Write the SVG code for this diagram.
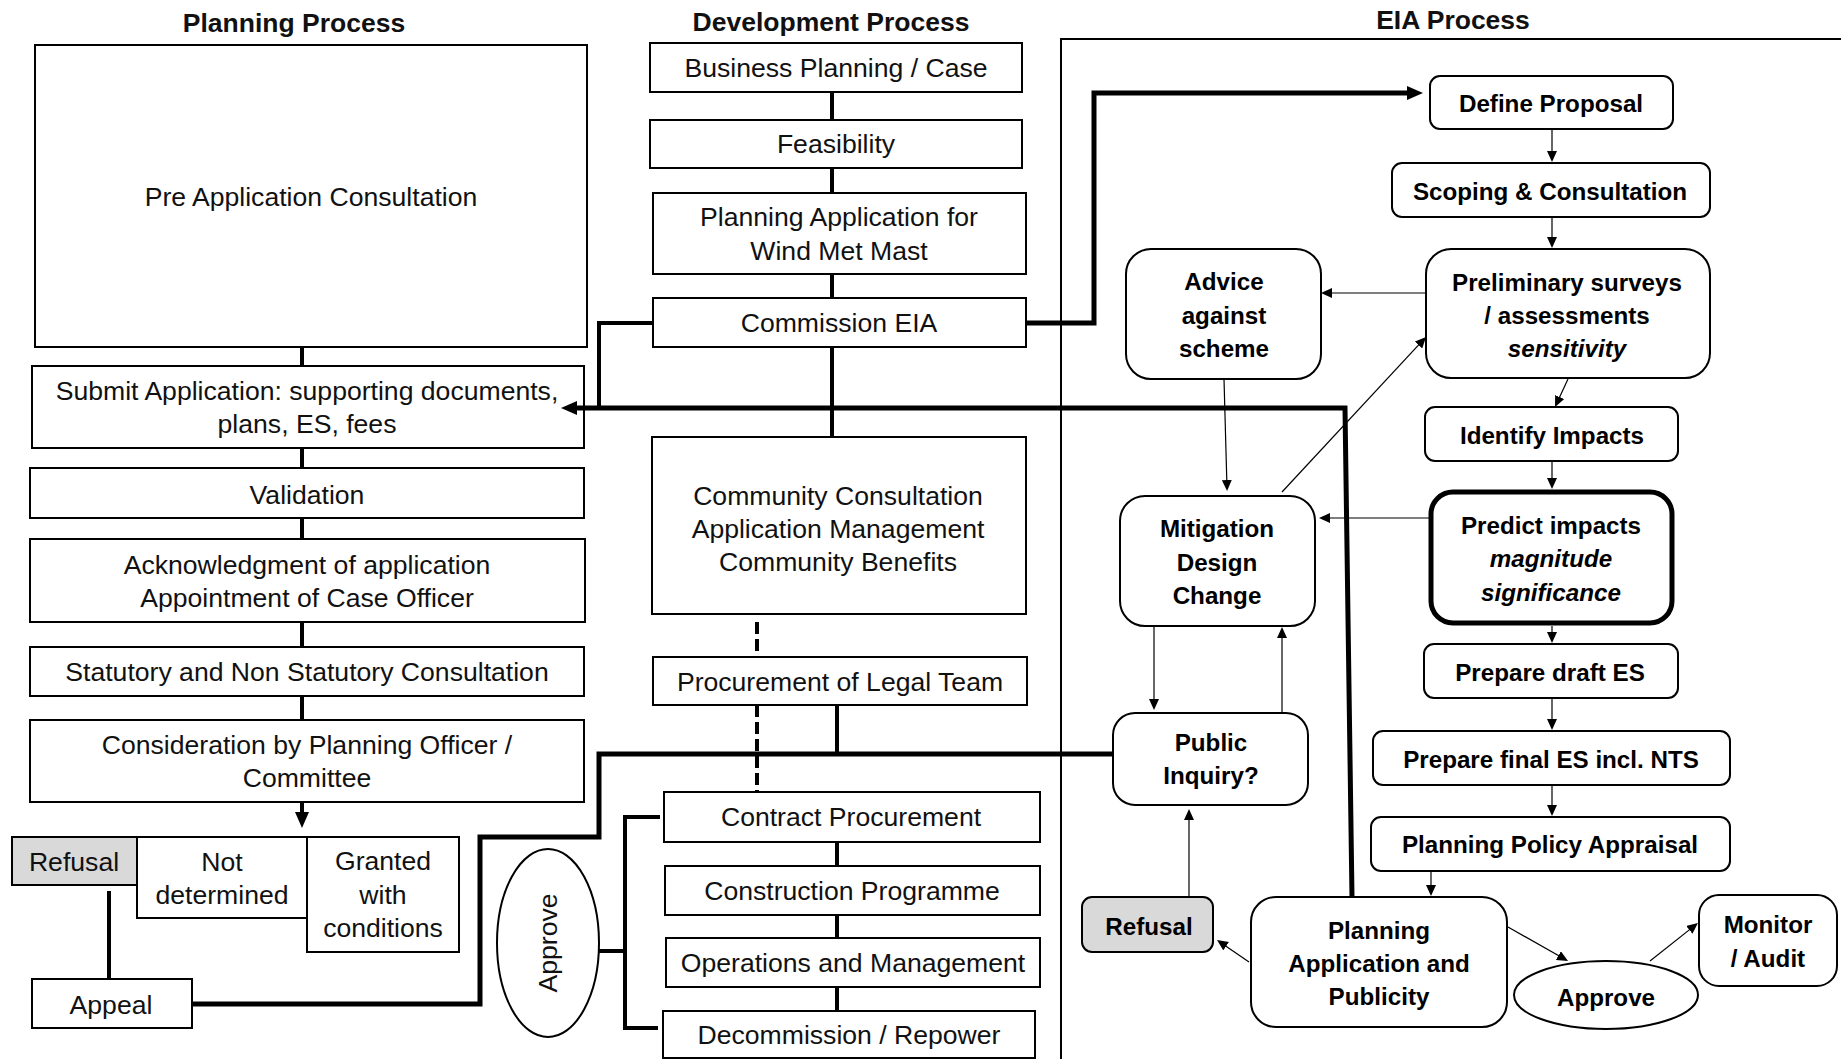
<svg xmlns="http://www.w3.org/2000/svg" width="1841" height="1059" viewBox="0 0 1841 1059">
<style>
  .box{fill:#fff;stroke:#000;stroke-width:2}
  .grey{fill:#d9d9d9}
  .t{font-family:"Liberation Sans",Arial,sans-serif;font-size:26.6px;fill:#111;text-anchor:middle}
  .h{font-family:"Liberation Sans",Arial,sans-serif;font-size:26.5px;font-weight:bold;fill:#111;text-anchor:middle}
  .e{font-family:"Liberation Sans",Arial,sans-serif;font-size:24.2px;font-weight:bold;fill:#000;text-anchor:middle}
  .i{font-style:italic}
  .frame{fill:none;stroke:#000;stroke-width:2}
  .thick{fill:none;stroke:#000;stroke-width:4}
  .heavy{fill:none;stroke:#000;stroke-width:5}
  .thin{fill:none;stroke:#000;stroke-width:1.2}
  .dash{fill:none;stroke:#000;stroke-width:4;stroke-dasharray:12 5}
</style>
<defs>
  <marker id="ah" markerUnits="userSpaceOnUse" markerWidth="11" markerHeight="10" refX="8" refY="5" orient="auto">
    <path d="M0,0 L11,5 L0,10 z" fill="#000"/>
  </marker>
  <marker id="ahBig" markerUnits="userSpaceOnUse" markerWidth="16" markerHeight="14" refX="9" refY="7" orient="auto">
    <path d="M0,0 L16,7 L0,14 z" fill="#000"/>
  </marker>
</defs>
<rect width="1841" height="1059" fill="#fff"/>

<!-- column headings -->
<text class="h" x="294" y="32">Planning Process</text>
<text class="h" x="831" y="31">Development Process</text>
<text class="h" x="1453" y="29">EIA Process</text>

<!-- EIA lane frame -->
<path class="frame" d="M1061,1059 V39 H1841"/>

<!-- Planning process column -->
<g id="pre-application">
  <rect class="box" x="35" y="45" width="552" height="302"/>
  <text class="t" x="311" y="206">Pre Application Consultation</text>
</g>
<g id="submit-application">
  <rect class="box" x="32" y="366" width="552" height="82"/>
  <text class="t" x="307" y="400">Submit Application: supporting documents,</text>
  <text class="t" x="307" y="433">plans, ES, fees</text>
</g>
<g id="validation">
  <rect class="box" x="30" y="468" width="554" height="50"/>
  <text class="t" x="307" y="504">Validation</text>
</g>
<g id="acknowledgment">
  <rect class="box" x="30" y="539" width="555" height="83"/>
  <text class="t" x="307" y="574">Acknowledgment of application</text>
  <text class="t" x="307" y="607">Appointment of Case Officer</text>
</g>
<g id="statutory-consultation">
  <rect class="box" x="30" y="647" width="554" height="49"/>
  <text class="t" x="307" y="681">Statutory and Non Statutory Consultation</text>
</g>
<g id="consideration">
  <rect class="box" x="30" y="720" width="554" height="82"/>
  <text class="t" x="307" y="754">Consideration by Planning Officer /</text>
  <text class="t" x="307" y="787">Committee</text>
</g>
<g id="refusal-planning">
  <rect class="box grey" x="12" y="837" width="125" height="48"/>
  <text class="t" x="74" y="871">Refusal</text>
</g>
<g id="not-determined">
  <rect class="box" x="137" y="837" width="170" height="81"/>
  <text class="t" x="222" y="871">Not</text>
  <text class="t" x="222" y="904">determined</text>
</g>
<g id="granted">
  <rect class="box" x="307" y="837" width="152" height="115"/>
  <text class="t" x="383" y="870">Granted</text>
  <text class="t" x="383" y="904">with</text>
  <text class="t" x="383" y="937">conditions</text>
</g>
<g id="appeal">
  <rect class="box" x="32" y="979" width="160" height="49"/>
  <text class="t" x="111" y="1014">Appeal</text>
</g>

<!-- Development process column -->
<g id="business-planning">
  <rect class="box" x="650" y="43" width="372" height="49"/>
  <text class="t" x="836" y="77">Business Planning / Case</text>
</g>
<g id="feasibility">
  <rect class="box" x="650" y="120" width="372" height="48"/>
  <text class="t" x="836" y="153">Feasibility</text>
</g>
<g id="met-mast">
  <rect class="box" x="653" y="193" width="373" height="81"/>
  <text class="t" x="839" y="226">Planning Application for</text>
  <text class="t" x="839" y="260">Wind Met Mast</text>
</g>
<g id="commission-eia">
  <rect class="box" x="653" y="298" width="373" height="49"/>
  <text class="t" x="839" y="332">Commission EIA</text>
</g>
<g id="community">
  <rect class="box" x="652" y="437" width="374" height="177"/>
  <text class="t" x="838" y="505">Community Consultation</text>
  <text class="t" x="838" y="538">Application Management</text>
  <text class="t" x="838" y="571">Community Benefits</text>
</g>
<g id="legal-team">
  <rect class="box" x="653" y="657" width="374" height="48"/>
  <text class="t" x="840" y="691">Procurement of Legal Team</text>
</g>
<g id="contract">
  <rect class="box" x="664" y="792" width="376" height="50"/>
  <text class="t" x="851" y="826">Contract Procurement</text>
</g>
<g id="construction">
  <rect class="box" x="665" y="866" width="375" height="49"/>
  <text class="t" x="852" y="900">Construction Programme</text>
</g>
<g id="operations">
  <rect class="box" x="666" y="938" width="374" height="49"/>
  <text class="t" x="853" y="972">Operations and Management</text>
</g>
<g id="decommission">
  <rect class="box" x="663" y="1011" width="372" height="47"/>
  <text class="t" x="849" y="1044">Decommission / Repower</text>
</g>
<g id="approve-development">
  <ellipse class="box" cx="548" cy="943" rx="51" ry="94"/>
  <text class="t" transform="translate(548,943) rotate(-90)" x="0" y="9">Approve</text>
</g>

<!-- EIA process column -->
<g id="define-proposal">
  <rect class="box" x="1430" y="76" width="243" height="53" rx="10"/>
  <text class="e" x="1551" y="112">Define Proposal</text>
</g>
<g id="scoping">
  <rect class="box" x="1392" y="163" width="318" height="54" rx="10"/>
  <text class="e" x="1550" y="200">Scoping &amp; Consultation</text>
</g>
<g id="preliminary-surveys">
  <rect class="box" x="1426" y="249" width="284" height="129" rx="25"/>
  <text class="e" x="1567" y="291">Preliminary surveys</text>
  <text class="e" x="1567" y="324">/ assessments</text>
  <text class="e i" x="1567" y="357">sensitivity</text>
</g>
<g id="advice-against">
  <rect class="box" x="1126" y="249" width="195" height="130" rx="25"/>
  <text class="e" x="1224" y="290">Advice</text>
  <text class="e" x="1224" y="324">against</text>
  <text class="e" x="1224" y="357">scheme</text>
</g>
<g id="identify-impacts">
  <rect class="box" x="1425" y="407" width="253" height="54" rx="10"/>
  <text class="e" x="1552" y="444">Identify Impacts</text>
</g>
<g id="predict-impacts">
  <rect class="box" x="1431" y="492" width="241" height="131" rx="22" style="stroke-width:5"/>
  <text class="e" x="1551" y="534">Predict impacts</text>
  <text class="e i" x="1551" y="567">magnitude</text>
  <text class="e i" x="1551" y="601">significance</text>
</g>
<g id="mitigation">
  <rect class="box" x="1120" y="496" width="195" height="130" rx="25"/>
  <text class="e" x="1217" y="537">Mitigation</text>
  <text class="e" x="1217" y="571">Design</text>
  <text class="e" x="1217" y="604">Change</text>
</g>
<g id="draft-es">
  <rect class="box" x="1424" y="644" width="254" height="54" rx="10"/>
  <text class="e" x="1550" y="681">Prepare draft ES</text>
</g>
<g id="final-es">
  <rect class="box" x="1373" y="731" width="357" height="54" rx="10"/>
  <text class="e" x="1551" y="768">Prepare final ES incl. NTS</text>
</g>
<g id="public-inquiry">
  <rect class="box" x="1113" y="713" width="195" height="92" rx="22"/>
  <text class="e" x="1211" y="751">Public</text>
  <text class="e" x="1211" y="784">Inquiry?</text>
</g>
<g id="policy-appraisal">
  <rect class="box" x="1371" y="817" width="359" height="54" rx="10"/>
  <text class="e" x="1550" y="853">Planning Policy Appraisal</text>
</g>
<g id="application-publicity">
  <rect class="box" x="1251" y="897" width="256" height="130" rx="25"/>
  <text class="e" x="1379" y="939">Planning</text>
  <text class="e" x="1379" y="972">Application and</text>
  <text class="e" x="1379" y="1005">Publicity</text>
</g>
<g id="refusal-eia">
  <rect class="box grey" x="1082" y="897" width="131" height="55" rx="10"/>
  <text class="e" x="1149" y="935">Refusal</text>
</g>
<g id="approve-eia">
  <ellipse class="box" cx="1606" cy="995" rx="92" ry="34"/>
  <text class="e" x="1606" y="1006">Approve</text>
</g>
<g id="monitor-audit">
  <rect class="box" x="1699" y="895" width="138" height="91" rx="20"/>
  <text class="e" x="1768" y="933">Monitor</text>
  <text class="e" x="1768" y="967">/ Audit</text>
</g>

<!-- connectors -->
<g id="connectors">
  <!-- planning chain -->
  <path class="thick" d="M302,347 V366 M302,448 V468 M302,518 V539 M302,622 V647 M302,696 V720"/>
  <path class="thick" d="M302,802 V821" marker-end="url(#ahBig)"/>
  <path class="thick" d="M109,891 V979"/>
  <path class="heavy" d="M192,1004 H480 V837 H599 V754 H1113"/>

  <!-- development chain -->
  <path class="thick" d="M832,92 V120 M832,168 V193 M832,274 V298 M832,347 V437"/>
  <path class="dash" d="M757,622 V657 M757,705 V792"/>
  <path class="thick" d="M837,705 V754"/>
  <path class="thick" d="M837,842 V866 M837,915 V938 M837,987 V1011"/>
  <path class="thick" d="M599,951 H625 M660,817 H625 V1028 H658"/>
  <path class="thick" d="M653,323 H599 V408"/>
  <path class="heavy" d="M1352,897 L1345,408 H568" marker-end="url(#ahBig)"/>
  <path class="heavy" d="M1026,323 H1094 V93 H1416" marker-end="url(#ahBig)"/>

  <!-- EIA flow -->
  <path class="thin" d="M1552,129 V159" marker-end="url(#ah)"/>
  <path class="thin" d="M1552,217 V245" marker-end="url(#ah)"/>
  <path class="thin" d="M1426,293 H1324" marker-end="url(#ah)"/>
  <path class="thin" d="M1568,379 L1556.3,404.3" marker-end="url(#ah)"/>
  <path class="thin" d="M1552,461 V486" marker-end="url(#ah)"/>
  <path class="thin" d="M1431,518 H1322" marker-end="url(#ah)"/>
  <path class="thin" d="M1552,626 V640" marker-end="url(#ah)"/>
  <path class="thin" d="M1552,698 V727" marker-end="url(#ah)"/>
  <path class="thin" d="M1552,785 V813" marker-end="url(#ah)"/>
  <path class="thin" d="M1431,871 V893" marker-end="url(#ah)"/>
  <path class="thin" d="M1224,379 L1227,488" marker-end="url(#ah)"/>
  <path class="thin" d="M1282,492 L1424,339.2" marker-end="url(#ah)"/>
  <path class="thin" d="M1154,626 V707" marker-end="url(#ah)"/>
  <path class="thin" d="M1282,713 V630" marker-end="url(#ah)"/>
  <path class="thin" d="M1189,897 V812" marker-end="url(#ah)"/>
  <path class="thin" d="M1249,962 L1219.5,941.7" marker-end="url(#ah)"/>
  <path class="thin" d="M1508,927 L1565.4,959.5" marker-end="url(#ah)"/>
  <path class="thin" d="M1650,961 L1695.6,924.9" marker-end="url(#ah)"/>
</g>
</svg>
